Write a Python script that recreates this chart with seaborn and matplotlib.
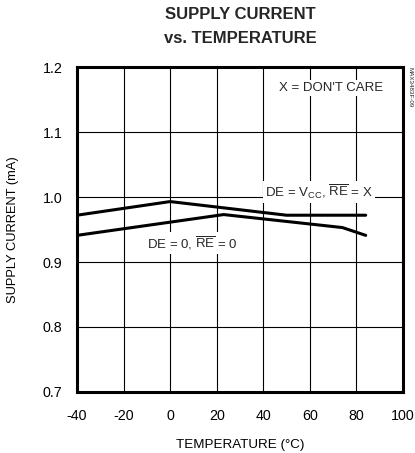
import matplotlib
matplotlib.use("Agg")
import matplotlib.pyplot as plt
import seaborn as sns
import pandas as pd

# Data
temp_vcc = [-40, 0, 50, 84]
curr_vcc = [0.972, 0.993, 0.972, 0.972]
temp_zero = [-40, 23, 74, 84]
curr_zero = [0.941, 0.973, 0.953, 0.941]
x_ticks = [-40, -20, 0, 20, 40, 60, 80, 100]
y_ticks = [0.7, 0.8, 0.9, 1.0, 1.1, 1.2]

sns.set_theme(style="white")
fam = "Liberation Sans"
plt.rcParams['font.family'] = [fam, 'DejaVu Sans']
plt.rcParams['mathtext.fontset'] = 'custom'
plt.rcParams['mathtext.rm'] = fam
plt.rcParams['mathtext.it'] = fam

fig = plt.figure(figsize=(4.15, 4.53), dpi=100)
ax = fig.add_axes([0.1855, 0.1347, 0.7855, 0.7173])

df1 = pd.DataFrame({"t": temp_vcc, "i": curr_vcc})
df2 = pd.DataFrame({"t": temp_zero, "i": curr_zero})
sns.lineplot(data=df1, x="t", y="i", ax=ax, color="black", lw=2.2, zorder=3)
sns.lineplot(data=df2, x="t", y="i", ax=ax, color="black", lw=2.2, zorder=3)

ax.set_xlim(-40, 100)
ax.set_ylim(0.7, 1.2)
ax.set_xticks(x_ticks)
ax.set_yticks(y_ticks)
ax.set_xticklabels([str(v) for v in x_ticks], fontsize=10.3)
ax.set_yticklabels([f"{v:.1f}" for v in y_ticks], fontsize=10.3)
ax.tick_params(axis="x", length=0, pad=12, colors="black")
ax.tick_params(axis="y", length=0, pad=10.5, colors="black")
ax.grid(True, color="black", lw=0.8)
ax.set_axisbelow(True)
for s in ax.spines.values():
    s.set_color("black")
    s.set_linewidth(2.2)

ax.set_xlabel("TEMPERATURE (°C)", fontsize=9.6, labelpad=12, color="black")
ax.set_ylabel("SUPPLY CURRENT (mA)", fontsize=9.3, labelpad=17, color="black")
fig.text(0.579, 1 - 14.5 / 453, "SUPPLY CURRENT", fontsize=12, fontweight="bold",
         ha="center", va="center")
fig.text(0.579, 1 - 38.5 / 453, "vs. TEMPERATURE", fontsize=12, fontweight="bold",
         ha="center", va="center")

bbox = dict(facecolor="white", edgecolor="none", pad=1.5)
ax.text(69, 1.168, "X = DON'T CARE", fontsize=9.5, ha="center", va="center", bbox=bbox, zorder=4)
ax.text(64, 1.008, r"DE = V$_{\rm CC}$, $\overline{\rm RE}$ = X", fontsize=9.5,
        ha="center", va="center", bbox=bbox, zorder=4)
ax.text(9.5, 0.929, r"DE = 0, $\overline{\rm RE}$ = 0", fontsize=9.5,
        ha="center", va="center", bbox=bbox, zorder=4)
fig.text(0.988, 0.852, "MAX3483F-09", fontsize=4.5, rotation=270, ha="center", va="top")

fig.savefig("out.png", dpi=100)
